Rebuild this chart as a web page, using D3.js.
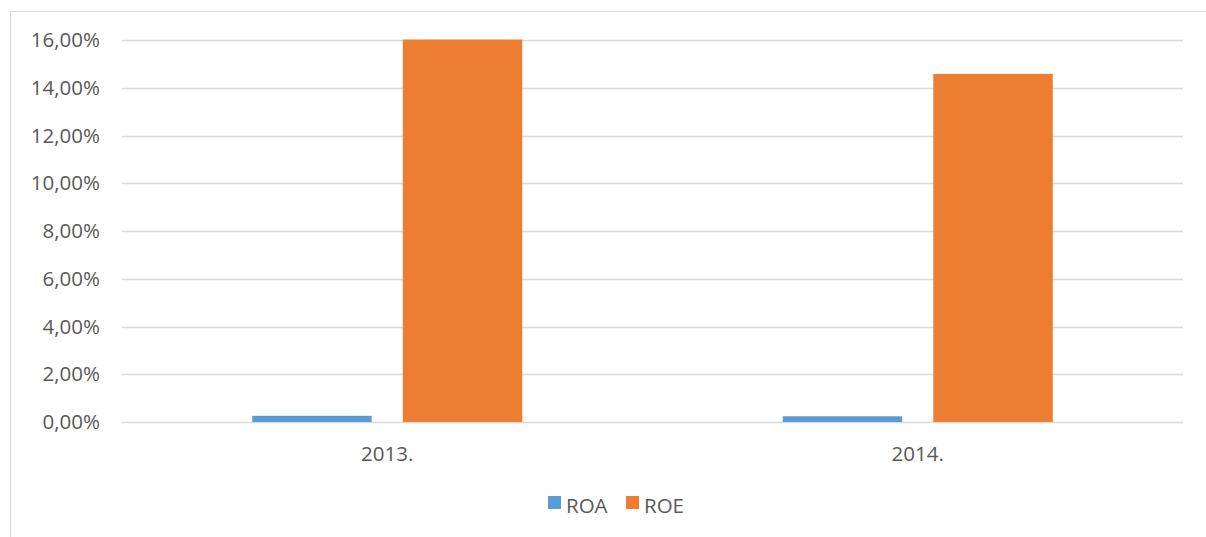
<!DOCTYPE html>
<meta charset="utf-8">
<script src="https://d3js.org/d3.v7.min.js"></script>
<style>
  body { margin: 0; background: #fff; font-family: 'Open Sans', sans-serif; }
  svg text { fill: #595959; }
</style>
<body>
<svg width="1206" height="537"></svg>
</body>
<script>

// data
var years = ["2013.", "2014."];
var series = ["ROA", "ROE"];
var roa = [0.26, 0.24];
var roe = [16.02, 14.58];
var yTicks = [0, 2, 4, 6, 8, 10, 12, 14, 16];
var colors = ["#5b9bd5", "#ed7d31"];

var rows = years.map(function(y, i) { return {year: y, ROA: roa[i], ROE: roe[i]}; });

var svg = d3.select("svg");

// outer chart frame (only top & left edges visible)
svg.append("path")
    .attr("d", "M10.5,537 V11.5 H1206")
    .attr("fill", "none")
    .attr("stroke", "#d9d9d9")
    .attr("stroke-width", 1);

var plotLeft = 122, plotRight = 1183, plotTop = 40, plotBottom = 422;
var fontSize = 20.5;

var y = d3.scaleLinear().domain([0, 16]).range([plotBottom, plotTop]);

var x0 = d3.scaleBand()
    .domain(years)
    .range([plotLeft, plotRight])
    .paddingInner(0.491)
    .paddingOuter(0.2455);

var x1 = d3.scaleBand()
    .domain(series)
    .range([0, x0.bandwidth()])
    .paddingInner(0.2067)
    .paddingOuter(0);

var color = d3.scaleOrdinal().domain(series).range(colors);

// gridlines
svg.append("g")
  .selectAll("line")
  .data(yTicks)
  .enter().append("line")
    .attr("x1", plotLeft)
    .attr("x2", plotRight)
    .attr("y1", function(d) { return Math.round(y(d)) + 0.5; })
    .attr("y2", function(d) { return Math.round(y(d)) + 0.5; })
    .attr("stroke", "#d9d9d9")
    .attr("stroke-width", 1.3);

// y labels
svg.append("g")
  .selectAll("text")
  .data(yTicks)
  .enter().append("text")
    .attr("x", 100)
    .attr("y", function(d) { return y(d); })
    .attr("dy", "0.35em")
    .attr("text-anchor", "end")
    .attr("font-size", fontSize)
    .text(function(d) { return d.toFixed(2).replace(".", ",") + "%"; });

// bars
svg.append("g")
  .selectAll("g")
  .data(rows)
  .enter().append("g")
    .attr("transform", function(d) { return "translate(" + x0(d.year) + ",0)"; })
  .selectAll("rect")
  .data(function(d) { return series.map(function(k) { return {key: k, value: d[k]}; }); })
  .enter().append("rect")
    .attr("x", function(d) { return x1(d.key); })
    .attr("y", function(d) { return y(d.value); })
    .attr("width", x1.bandwidth())
    .attr("height", function(d) { return y(0) - y(d.value); })
    .attr("fill", function(d) { return color(d.key); });

// x labels
svg.append("g")
  .selectAll("text")
  .data(years)
  .enter().append("text")
    .attr("x", function(d) { return x0(d) + x0.bandwidth() / 2; })
    .attr("y", 454)
    .attr("dy", "0.35em")
    .attr("text-anchor", "middle")
    .attr("font-size", fontSize)
    .text(function(d) { return d; });

// legend
var legend = svg.append("g")
  .selectAll("g")
  .data(series)
  .enter().append("g")
    .attr("transform", function(d, i) { return "translate(" + (548 + i * 78) + ",496)"; });

legend.append("rect")
    .attr("width", 13)
    .attr("height", 13)
    .attr("fill", color);

legend.append("text")
    .attr("x", 18)
    .attr("y", 10)
    .attr("dy", "0.35em")
    .attr("font-size", fontSize)
    .text(function(d) { return d; });

</script>
